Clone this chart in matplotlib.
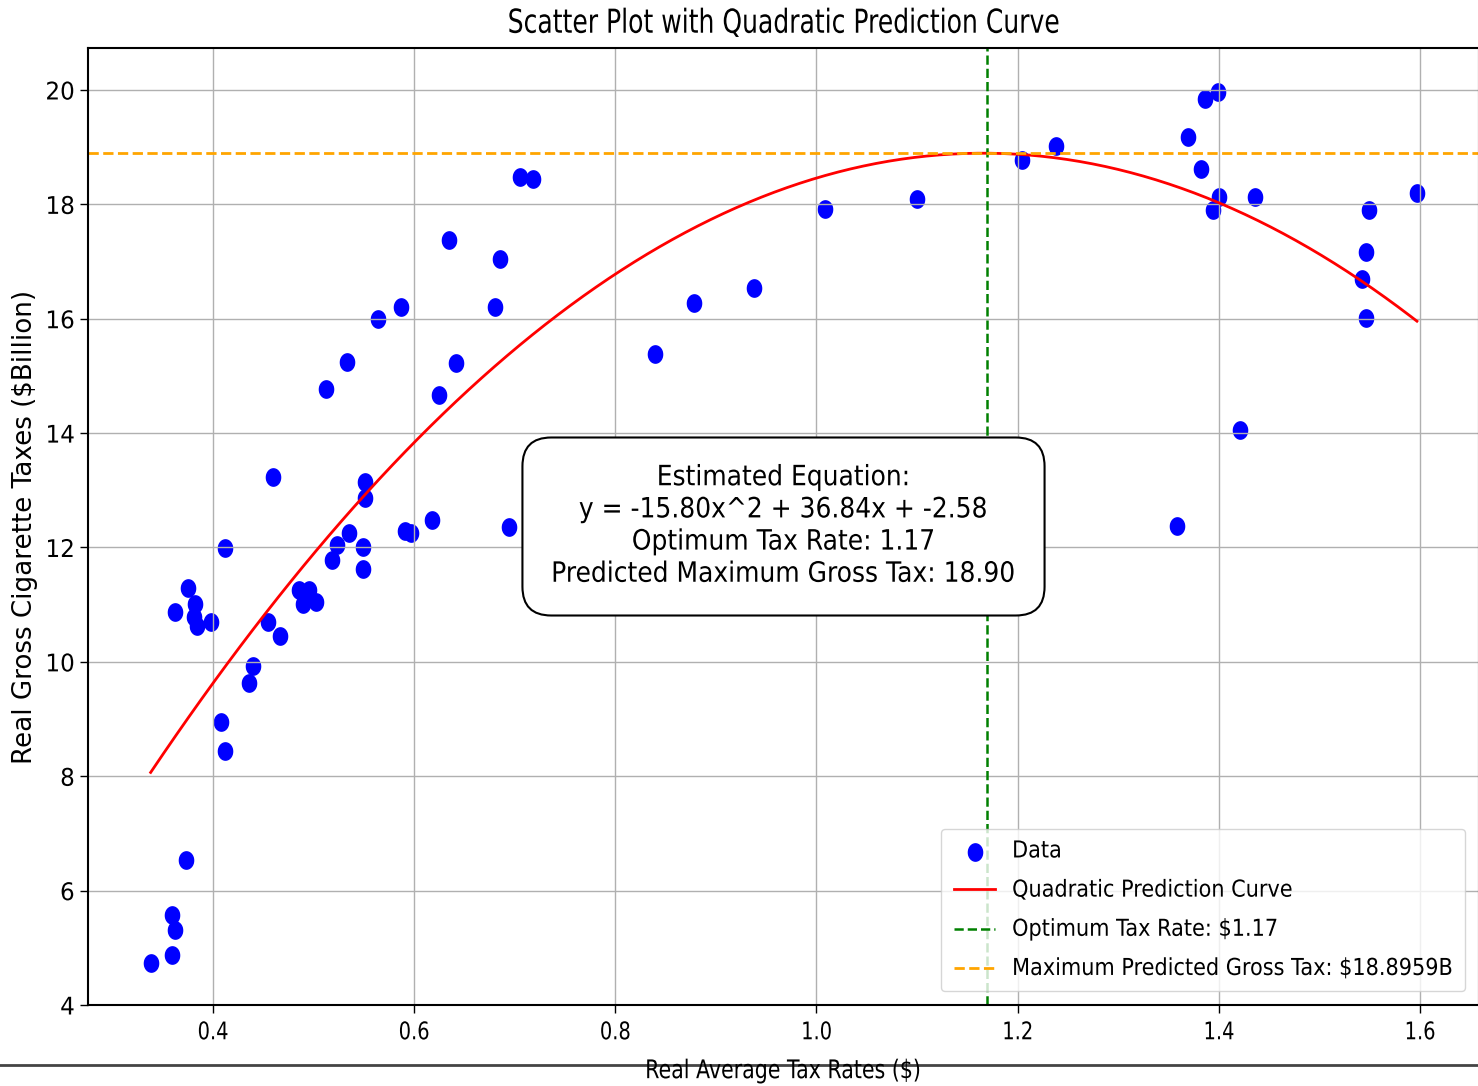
import numpy as np
import matplotlib
matplotlib.use('Agg')
import matplotlib.pyplot as plt
from matplotlib.path import Path
from matplotlib.lines import Line2D
from matplotlib.patheffects import AbstractPathEffect
from matplotlib.transforms import Affine2D


# Real average tax rate ($) and real gross cigarette taxes ($ billion)
tax_rate = [0.338, 0.3595, 0.362, 0.359, 0.373, 0.375, 0.382, 0.362, 0.381, 0.384,
            0.398, 0.455, 0.467, 0.440, 0.436, 0.408, 0.412, 0.412, 0.460, 0.533,
            0.512, 0.551, 0.551, 0.535, 0.523, 0.518, 0.549, 0.549, 0.485, 0.495,
            0.489, 0.502, 0.635, 0.587, 0.564, 0.642, 0.625, 0.618, 0.591, 0.597,
            0.705, 0.718, 0.685, 0.680, 0.694, 0.839, 0.878, 0.938, 1.008, 1.100,
            1.204, 1.238, 1.358, 1.421, 1.399, 1.386, 1.369, 1.382, 1.400, 1.394,
            1.436, 1.597, 1.549, 1.546, 1.542, 1.546]
gross_tax = [4.74, 4.88, 5.31, 5.57, 6.54, 11.29, 11.02, 10.87, 10.79, 10.62,
             10.69, 10.70, 10.46, 9.93, 9.63, 8.94, 8.45, 11.99, 13.24, 15.25,
             14.78, 13.15, 12.86, 12.25, 12.04, 11.78, 12.01, 11.62, 11.26, 11.26,
             11.02, 11.05, 17.37, 16.21, 16.00, 15.22, 14.67, 12.48, 12.28, 12.25,
             18.48, 18.44, 17.04, 16.21, 12.36, 15.38, 16.28, 16.54, 17.92, 18.09,
             18.78, 19.02, 12.38, 14.05, 19.97, 19.85, 19.18, 18.62, 18.13, 17.91,
             18.13, 18.19, 17.91, 17.17, 16.70, 16.01]

# quadratic fit y = a*x^2 + b*x + c
coef_a, coef_b, coef_c = -15.80, 36.84, -2.58
optimum_rate = 1.17
max_gross_tax = 18.8959

x_ticks = [0.4, 0.6, 0.8, 1.0, 1.2, 1.4, 1.6]
y_ticks = [4, 6, 8, 10, 12, 14, 16, 18, 20]


class Squeeze(AbstractPathEffect):
    """Rescale the glyphs (sx wide, sy tall) around the text start, centre or end."""

    def __init__(self, sx=0.75, sy=1.0, anchor='center'):
        super().__init__()
        self.sx = sx
        self.sy = sy
        self.anchor = anchor

    def draw_path(self, renderer, gc, tpath, affine, rgbFace=None):
        ext = tpath.get_extents()
        if self.anchor == 'right':
            cx = ext.x1
        elif self.anchor == 'left':
            cx = 0.0
        else:
            cx = 0.5 * (ext.x0 + ext.x1)
        squeeze = Affine2D().translate(-cx, 0).scale(self.sx, self.sy).translate(cx, 0)
        renderer.draw_path(gc, tpath, squeeze + affine, rgbFace)


# slightly tall elliptical dot
t = np.linspace(0, 2 * np.pi, 60)
ellipse = Path(np.column_stack([0.82 * np.cos(t), np.sin(t)]), closed=True)

fig = plt.figure(figsize=(14.78, 10.86), dpi=100)
ax = fig.add_axes([88 / 1478, 81 / 1086, 1391 / 1478, 957 / 1086])

ax.scatter(tax_rate, gross_tax, s=155, marker=ellipse, color='blue', label='Data')

x_fit = np.linspace(min(tax_rate), max(tax_rate), 200)
y_fit = coef_a * x_fit ** 2 + coef_b * x_fit + coef_c
ax.plot(x_fit, y_fit, color='red', lw=2, label='Quadratic Prediction Curve')

ax.axvline(optimum_rate, color='green', ls='--', lw=1.8,
           label=f'Optimum Tax Rate: ${optimum_rate:.2f}')
ax.axhline(max_gross_tax, color='orange', ls='--', lw=2,
           label=f'Maximum Predicted Gross Tax: ${max_gross_tax:.4f}B')

eq_text = (f'Estimated Equation:\ny = {coef_a:.2f}x^2 + {coef_b:.2f}x + {coef_c:.2f}\n'
           f'Optimum Tax Rate: {optimum_rate:.2f}\n'
           f'Predicted Maximum Gross Tax: {max_gross_tax:.2f}')
box = ax.text(0.5, 0.5, eq_text, transform=ax.transAxes, ha='center', va='center',
              fontsize=18, linespacing=1.43, zorder=10,
              bbox=dict(boxstyle='round,pad=1.15', facecolor='white', edgecolor='black', lw=1.5))
box.set_path_effects([Squeeze(1.0, 1.12)])

ax.set_xlim(0.2757, 1.6587)
ax.set_ylim(4, 20.734)
ax.set_xticks(x_ticks)
ax.set_yticks(y_ticks)
ax.grid(True, color='#b0b0b0', lw=1)
ax.tick_params(labelsize=17.5, length=6, width=1)
ax.tick_params(axis='x', pad=5)
for sp in ax.spines.values():
    sp.set_linewidth(1.5)

title = ax.set_title('Scatter Plot with Quadratic Prediction Curve', fontsize=22, pad=11)
title.set_path_effects([Squeeze(0.82, 1.08)])
xl = ax.set_xlabel('Real Average Tax Rates ($)', fontsize=18.5, labelpad=10)
xl.set_path_effects([Squeeze(0.8)])
ax.set_ylabel('Real Gross Cigarette Taxes ($Billion)', fontsize=18.8, labelpad=4)
for lbl in ax.get_xticklabels():
    lbl.set_path_effects([Squeeze(0.8)])
for lbl in ax.get_yticklabels():
    lbl.set_path_effects([Squeeze(0.95, anchor='right')])

leg = ax.legend(loc='lower right', fontsize=15, labelspacing=0.92,
                handlelength=2.0, handletextpad=0.8,
                borderpad=0.6, borderaxespad=0.65)
for txt in leg.get_texts():
    txt.set_path_effects([Squeeze(1.0, 1.12, anchor='left')])

# rule across the bottom of the figure
fig.add_artist(Line2D([0, 1], [21 / 1086, 21 / 1086], transform=fig.transFigure,
                      color='#444444', lw=2, zorder=0))

plt.savefig('out.png', dpi=100)
